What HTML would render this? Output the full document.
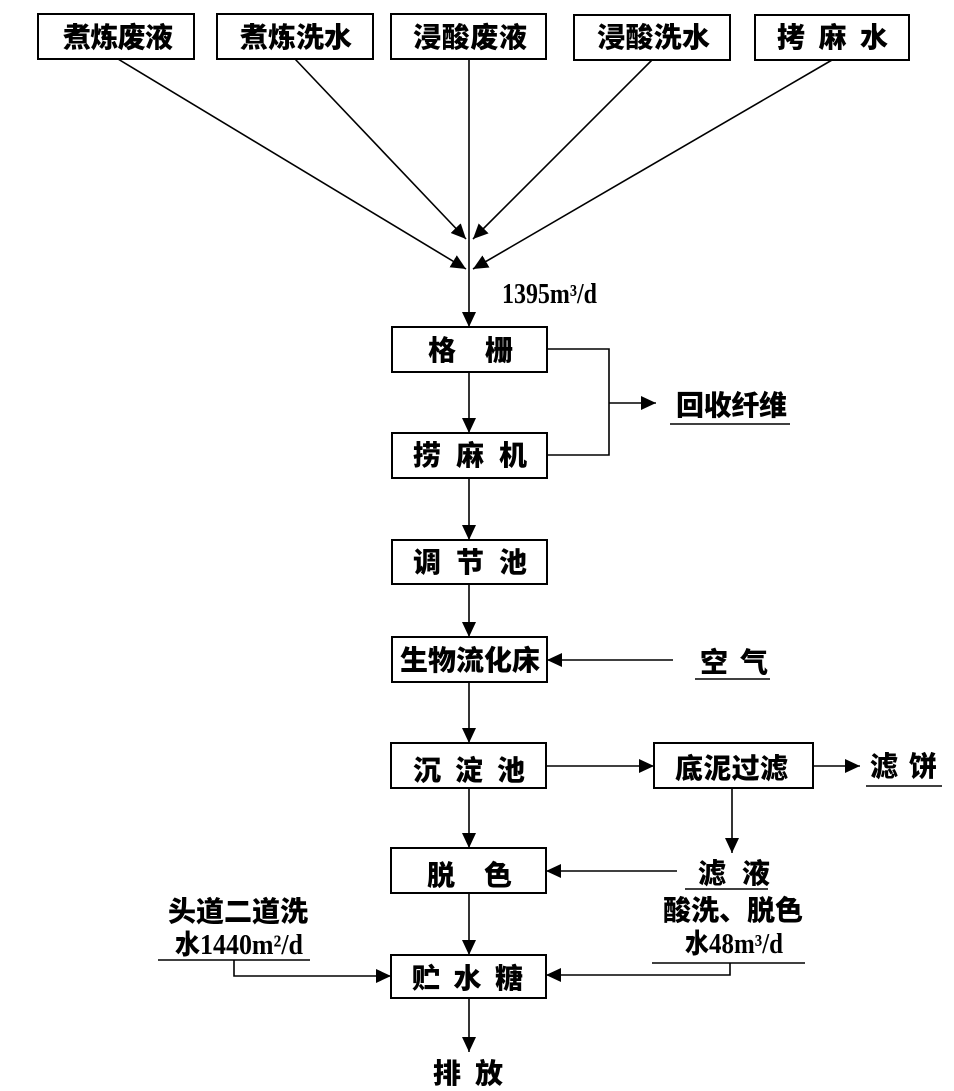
<!DOCTYPE html>
<html>
<head>
<meta charset="utf-8">
<style>
html,body{margin:0;padding:0;background:#fff;}
svg{display:block;}
.cj{font-family:"Liberation Sans","Noto Sans CJK SC",sans-serif;font-weight:900;font-size:28px;fill:#000;}
.sf{font-family:"Liberation Serif","Noto Serif CJK SC",serif;font-weight:700;font-size:28px;fill:#000;}
.bx{fill:#fff;stroke:#000;stroke-width:2;}
.ln{stroke:#000;stroke-width:1.6;fill:none;}
</style>
</head>
<body>
<svg width="954" height="1091" viewBox="0 0 954 1091" xmlns="http://www.w3.org/2000/svg">
<defs>
<marker id="ah" markerUnits="userSpaceOnUse" markerWidth="16" markerHeight="14" refX="15" refY="7" orient="auto">
<path d="M0,0 L15,7 L0,14 Z" fill="#000"/>
</marker>
</defs>

<!-- top boxes -->
<rect class="bx" x="38" y="14" width="156" height="45"/>
<rect class="bx" x="217" y="14" width="156" height="45"/>
<rect class="bx" x="391" y="14" width="155" height="45"/>
<rect class="bx" x="574" y="15" width="156" height="45"/>
<rect class="bx" x="755" y="15" width="154" height="45"/>
<text class="cj" x="63" y="47" textLength="110" lengthAdjust="spacing">煮炼废液</text>
<text class="cj" x="240" y="47" textLength="112" lengthAdjust="spacing">煮炼洗水</text>
<text class="cj" x="413" y="47" textLength="114" lengthAdjust="spacing">浸酸废液</text>
<text class="cj" x="597" y="47" textLength="113" lengthAdjust="spacing">浸酸洗水</text>
<text class="cj" x="777" y="47" textLength="111" lengthAdjust="spacing">拷麻水</text>

<!-- converging lines -->
<line class="ln" x1="118" y1="59" x2="466" y2="269" marker-end="url(#ah)"/>
<line class="ln" x1="295" y1="59" x2="466" y2="239" marker-end="url(#ah)"/>
<line class="ln" x1="652" y1="60" x2="473" y2="239" marker-end="url(#ah)"/>
<line class="ln" x1="832" y1="60" x2="473" y2="269" marker-end="url(#ah)"/>
<line class="ln" x1="469" y1="59" x2="469" y2="327" marker-end="url(#ah)"/>

<text class="sf" x="502" y="303" textLength="95" lengthAdjust="spacingAndGlyphs">1395m³/d</text>

<!-- main column boxes -->
<rect class="bx" x="392" y="327" width="155" height="45"/>
<rect class="bx" x="392" y="433" width="155" height="45"/>
<rect class="bx" x="392" y="540" width="155" height="44"/>
<rect class="bx" x="392" y="637" width="155" height="45"/>
<rect class="bx" x="391" y="743" width="155" height="45"/>
<rect class="bx" x="391" y="848" width="155" height="45"/>
<rect class="bx" x="391" y="955" width="155" height="43"/>
<rect class="bx" x="654" y="743" width="159" height="45"/>

<text class="cj" x="428" y="360" textLength="85" lengthAdjust="spacing">格栅</text>
<text class="cj" x="413" y="465" textLength="114" lengthAdjust="spacing">捞麻机</text>
<text class="cj" x="413" y="572" textLength="114" lengthAdjust="spacing">调节池</text>
<text class="cj" x="400" y="670" textLength="140" lengthAdjust="spacing">生物流化床</text>
<text class="cj" x="413" y="780" textLength="112" lengthAdjust="spacing">沉淀池</text>
<text class="cj" x="675" y="778" textLength="113" lengthAdjust="spacing">底泥过滤</text>
<text class="cj" x="427" y="885" textLength="85" lengthAdjust="spacing">脱色</text>
<text class="cj" x="412" y="988" textLength="111" lengthAdjust="spacing">贮水糖</text>

<!-- main vertical arrows -->
<line class="ln" x1="469" y1="372" x2="469" y2="433" marker-end="url(#ah)"/>
<line class="ln" x1="469" y1="478" x2="469" y2="540" marker-end="url(#ah)"/>
<line class="ln" x1="469" y1="584" x2="469" y2="637" marker-end="url(#ah)"/>
<line class="ln" x1="469" y1="682" x2="469" y2="743" marker-end="url(#ah)"/>
<line class="ln" x1="469" y1="788" x2="469" y2="848" marker-end="url(#ah)"/>
<line class="ln" x1="469" y1="893" x2="469" y2="955" marker-end="url(#ah)"/>
<line class="ln" x1="469" y1="998" x2="469" y2="1052" marker-end="url(#ah)"/>

<!-- fiber recovery bracket -->
<polyline class="ln" points="547,349 609,349 609,455 547,455"/>
<line class="ln" x1="609" y1="403" x2="656" y2="403" marker-end="url(#ah)"/>
<text class="cj" x="676" y="415" textLength="111" lengthAdjust="spacing">回收纤维</text>
<line class="ln" x1="670" y1="424" x2="790" y2="424"/>

<!-- air -->
<line class="ln" x1="673" y1="660" x2="547" y2="660" marker-end="url(#ah)"/>
<text class="cj" x="700" y="672" textLength="68" lengthAdjust="spacing">空气</text>
<line class="ln" x1="695" y1="679" x2="770" y2="679"/>

<!-- sludge filter -->
<line class="ln" x1="546" y1="766" x2="654" y2="766" marker-end="url(#ah)"/>
<line class="ln" x1="813" y1="766" x2="860" y2="766" marker-end="url(#ah)"/>
<text class="cj" x="870" y="776" textLength="67" lengthAdjust="spacing">滤饼</text>
<line class="ln" x1="866" y1="786" x2="942" y2="786"/>
<line class="ln" x1="732" y1="788" x2="732" y2="853" marker-end="url(#ah)"/>
<text class="cj" x="698" y="883" textLength="72" lengthAdjust="spacing">滤液</text>
<line class="ln" x1="685" y1="889" x2="768" y2="889"/>
<line class="ln" x1="677" y1="871" x2="546" y2="871" marker-end="url(#ah)"/>

<!-- right input -->
<text class="cj" x="663" y="920" textLength="140" lengthAdjust="spacing">酸洗、脱色</text>
<text class="sf" x="685" y="953" textLength="98" lengthAdjust="spacingAndGlyphs"><tspan class="cj" style="font-size:27px">水</tspan>48m³/d</text>
<line class="ln" x1="652" y1="963" x2="805" y2="963"/>
<polyline class="ln" points="730,963 730,975 546,975" marker-end="url(#ah)"/>

<!-- left input -->
<text class="cj" x="168" y="921" textLength="140" lengthAdjust="spacing">头道二道洗</text>
<text class="sf" x="175" y="954" textLength="128" lengthAdjust="spacingAndGlyphs"><tspan class="cj" style="font-size:27px">水</tspan>1440m²/d</text>
<line class="ln" x1="158" y1="960" x2="310" y2="960"/>
<polyline class="ln" points="234,960 234,976 391,976" marker-end="url(#ah)"/>

<!-- discharge -->
<text class="cj" x="433" y="1083" textLength="70" lengthAdjust="spacing">排放</text>
</svg>
</body>
</html>
